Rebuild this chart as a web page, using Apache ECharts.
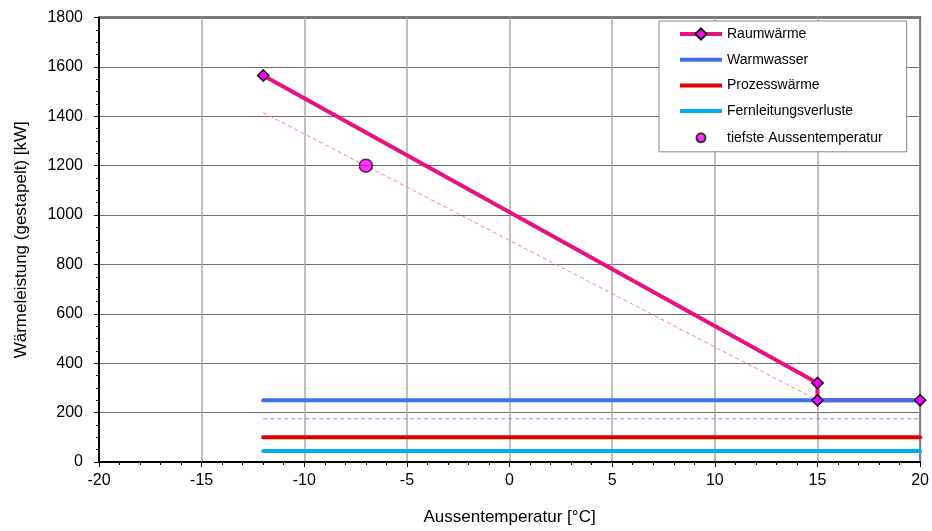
<!DOCTYPE html>
<html>
<head>
<meta charset="utf-8">
<script src="https://cdn.jsdelivr.net/npm/echarts@6/dist/echarts.min.js"></script>
<style>
html,body{margin:0;padding:0;background:#fff;}
#chart{width:932px;height:531px;}
</style>
</head>
<body>
<div id="chart"></div>
<script>
// Data
const xTicks = [-20, -15, -10, -5, 0, 5, 10, 15, 20];
const yTicks = [0, 200, 400, 600, 800, 1000, 1200, 1400, 1600, 1800];
const raumX = [-12, 15, 15, 20];
const raumY = [1565, 320, 250, 250];
const warmX = [-12, 20];
const warmY = [250, 250];
const prozX = [-12, 20];
const prozY = [100, 100];
const fernX = [-12, 20];
const fernY = [45, 45];
const tiefX = [-7];
const tiefY = [1200];
const raumDashX = [-12, 15, 15];
const raumDashY = [1415, 250, 175];
const warmDashX = [-12, 20];
const warmDashY = [175, 175];

const zip = (xs, ys) => xs.map((x, i) => [x, ys[i]]);
const FONT = 'Liberation Sans, Arial, sans-serif';
const BAR = 'path://M0,0L42,0L42,4L0,4Z';
// circle with padding (moveTo points widen the bounding box)
const DOT = 'path://M0,0M14,14M7,2.5A4.5,4.5,0,1,1,6.99,2.5Z';

const C = {raum: '#E8117F', mag: '#FF00FF', warm: '#3F6FF0', proz: '#E00000', fern: '#00AEEF'};

const chart = echarts.init(document.getElementById('chart'), null, {renderer: 'canvas'});
chart.setOption({
  animation: false,
  backgroundColor: '#fff',
  grid: {left: 99, right: 11, top: 17.5, bottom: 66, show: true, borderColor: '#000', borderWidth: 2, backgroundColor: 'transparent'},
  xAxis: {
    type: 'value', min: xTicks[0], max: xTicks[xTicks.length - 1], interval: 5,
    name: 'Aussentemperatur [°C]', nameLocation: 'middle', nameGap: 47,
    nameTextStyle: {fontFamily: FONT, fontSize: 17, color: '#000'},
    axisLine: {show: true, onZero: false, lineStyle: {color: '#000', width: 2}},
    axisTick: {show: true, inside: false, length: 5, lineStyle: {color: '#000', width: 1}},
    minorTick: {show: true, splitNumber: 5, length: 3, lineStyle: {color: '#000', width: 1}},
    axisLabel: {fontFamily: FONT, fontSize: 16, color: '#000', margin: 11, formatter: v => String(v)},
    splitLine: {show: true, lineStyle: {color: '#a8a8a8', width: 1.5}}
  },
  yAxis: {
    type: 'value', min: yTicks[0], max: yTicks[yTicks.length - 1], interval: 200,
    name: 'Wärmeleistung (gestapelt) [kW]', nameLocation: 'middle', nameGap: 69,
    nameTextStyle: {fontFamily: FONT, fontSize: 17, color: '#000'},
    axisLine: {show: true, onZero: false, lineStyle: {color: '#000', width: 2}},
    axisTick: {show: true, inside: false, length: 5, lineStyle: {color: '#000', width: 1}},
    minorTick: {show: true, splitNumber: 4, length: 3, lineStyle: {color: '#000', width: 1}},
    axisLabel: {fontFamily: FONT, fontSize: 16, color: '#000', margin: 16, formatter: v => String(v)},
    splitLine: {show: true, lineStyle: {color: '#6e6e6e', width: 1}}
  },
  legend: {
    orient: 'vertical', left: 659, top: 21,
    padding: [6, 24, 6, 19], itemGap: 11.7, itemWidth: 42, itemHeight: 14,
    backgroundColor: '#fff', borderColor: '#888', borderWidth: 1, borderRadius: 0,
    textStyle: {fontFamily: FONT, fontSize: 14, color: '#000'},
    data: [
      {name: 'Raumwärme', lineStyle: {width: 4}},
      {name: 'Warmwasser', icon: BAR},
      {name: 'Prozesswärme', icon: BAR},
      {name: 'Fernleitungsverluste', icon: BAR},
      {name: 'tiefste Aussentemperatur', icon: DOT}
    ]
  },
  series: [
    {
      name: 'raumDash', type: 'line', data: zip(raumDashX, raumDashY), symbol: 'none', z: 2,
      lineStyle: {color: '#F27BBE', width: 1, type: [4, 3]}
    },
    {
      name: 'warmDash', type: 'line', data: zip(warmDashX, warmDashY), symbol: 'none', z: 2,
      lineStyle: {color: '#8484F2', width: 1, type: [4, 3]}
    },
    {
      name: 'Raumwärme', type: 'line', data: zip(raumX, raumY), z: 3,
      symbol: 'diamond', symbolSize: 11, showSymbol: true,
      lineStyle: {color: C.raum, width: 4},
      itemStyle: {color: C.mag, borderColor: '#111', borderWidth: 1.5}
    },
    {
      name: 'Warmwasser', type: 'line', data: zip(warmX, warmY), symbol: 'none', z: 4,
      lineStyle: {color: C.warm, width: 4, cap: 'round'}, itemStyle: {color: C.warm}
    },
    {
      name: 'Prozesswärme', type: 'line', data: zip(prozX, prozY), symbol: 'none', z: 4,
      lineStyle: {color: C.proz, width: 4, cap: 'round'}, itemStyle: {color: C.proz}
    },
    {
      name: 'Fernleitungsverluste', type: 'line', data: zip(fernX, fernY), symbol: 'none', z: 4,
      lineStyle: {color: C.fern, width: 4, cap: 'round'}, itemStyle: {color: C.fern}
    },
    {
      name: 'raumMarks', type: 'scatter', data: zip(raumX, raumY), z: 5,
      symbol: 'diamond', symbolSize: 11,
      itemStyle: {color: C.mag, borderColor: '#111', borderWidth: 1.5}
    },
    {
      name: 'tiefste Aussentemperatur', type: 'scatter', data: zip(tiefX, tiefY), z: 5,
      symbol: 'circle', symbolSize: 13,
      itemStyle: {color: C.mag, borderColor: '#111', borderWidth: 1.5}
    }
  ]
});
</script>
</body>
</html>
